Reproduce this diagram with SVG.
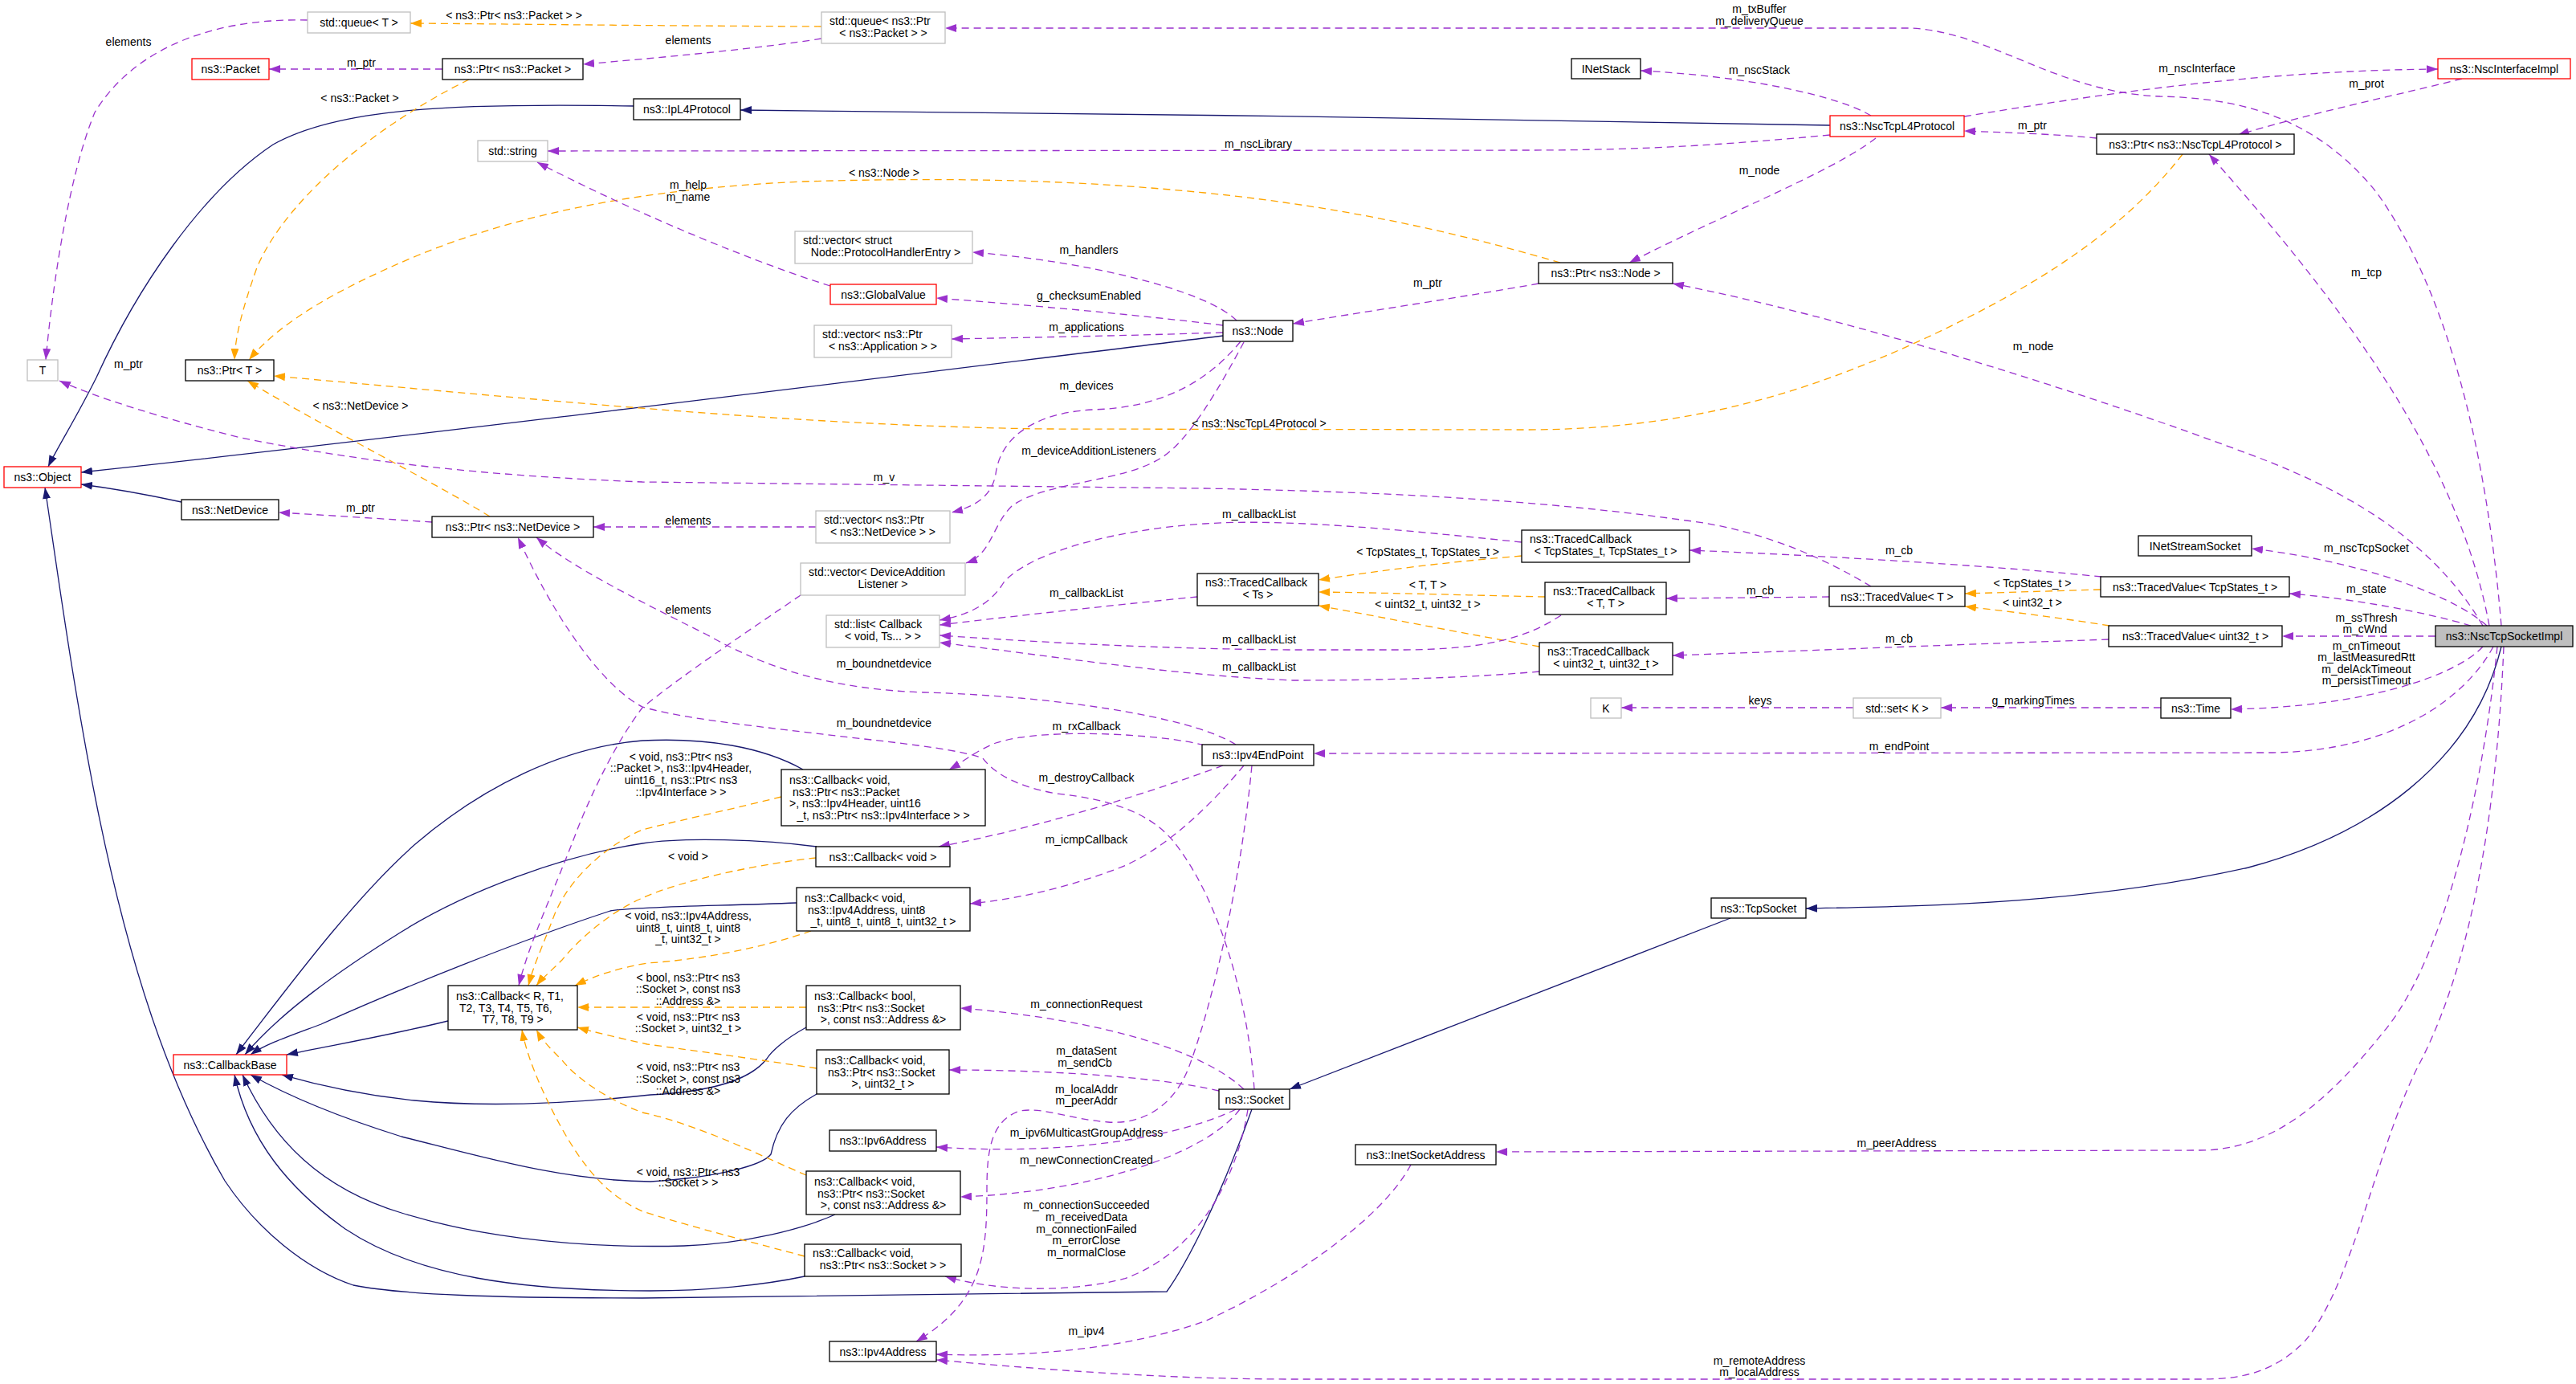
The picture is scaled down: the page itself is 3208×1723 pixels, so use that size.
<svg xmlns="http://www.w3.org/2000/svg" width="3208" height="1723" viewBox="0 0 3208 1723">
<style>
text{font-family:"Liberation Sans",Arial,sans-serif;font-size:14px;fill:#000}
.c{text-anchor:middle}
.nd rect{fill:#fff;stroke:#000;stroke-width:1.3}
.nd.g rect{stroke:#bfbfbf}
.nd.r rect{stroke:#ff0000}
.nd.s rect{fill:#bfbfbf}
#edges path{fill:none;stroke-width:1.3}
.p{stroke:#9a32cd;stroke-dasharray:9,6;marker-end:url(#ap)}
.o{stroke:#ffa500;stroke-dasharray:9,6;marker-end:url(#ao)}
.b{stroke:#191970;marker-end:url(#ab)}
</style>
<defs>
<marker id="ap" viewBox="0 0 14 10" refX="14" refY="5" markerWidth="14" markerHeight="10" markerUnits="userSpaceOnUse" orient="auto"><path d="M0,0L14,5L0,10z" fill="#9a32cd" stroke="none"/></marker>
<marker id="ao" viewBox="0 0 14 10" refX="14" refY="5" markerWidth="14" markerHeight="10" markerUnits="userSpaceOnUse" orient="auto"><path d="M0,0L14,5L0,10z" fill="#ffa500" stroke="none"/></marker>
<marker id="ab" viewBox="0 0 14 10" refX="14" refY="5" markerWidth="14" markerHeight="10" markerUnits="userSpaceOnUse" orient="auto"><path d="M0,0L14,5L0,10z" fill="#191970" stroke="none"/></marker>
</defs>
<rect width="3208" height="1723" fill="#fff"/>
<g id="edges">
<!-- inheritance -->
<path class="b" d="M789,132 C560,128 420,135 340,180 C250,240 170,360 120,470 C95,520 70,560 60,581"/>
<path class="b" d="M2279,156 C1800,148 1400,140 922,137"/>
<path class="b" d="M1523,418 C1100,470 500,545 101,588"/>
<path class="b" d="M226,625 C180,615 140,608 101,603"/>
<path class="b" d="M2155,1143 L1606,1356"/>
<path class="b" d="M3115,805 C3080,950 2950,1040 2800,1080 C2600,1125 2400,1128 2249,1131"/>
<path class="b" d="M1559,1381 C1520,1490 1480,1570 1453,1608 L800,1616 C620,1616 500,1612 440,1600 C380,1580 320,1530 280,1470 C210,1350 160,1200 120,1000 C90,850 70,700 56,607"/>
<path class="b" d="M558,1271 C480,1290 420,1300 357,1313"/>
<path class="b" d="M1000,958 C950,930 880,918 800,922 C700,930 600,980 517,1051 C450,1110 380,1200 294,1313"/>
<path class="b" d="M1017,1054 C950,1045 850,1042 800,1050 C700,1065 580,1110 500,1160 C420,1210 350,1260 305,1313"/>
<path class="b" d="M992,1124 C900,1128 800,1128 760,1134 C650,1170 500,1230 400,1275 C360,1290 330,1300 312,1313"/>
<path class="b" d="M1004,1279 C975,1295 960,1310 955,1318 C930,1350 870,1360 810,1363 C700,1375 600,1378 516,1370 C450,1363 400,1352 351,1338"/>
<path class="b" d="M1017,1362 C985,1380 968,1400 960,1437 C950,1450 900,1465 810,1471 C700,1470 600,1440 500,1415 C420,1390 360,1365 312,1338"/>
<path class="b" d="M1040,1512 C1000,1530 930,1548 852,1551 C700,1555 580,1535 500,1510 C400,1480 340,1420 302,1338"/>
<path class="b" d="M1002,1589 C950,1600 880,1607 810,1607 C650,1607 520,1590 430,1530 C360,1480 310,1420 292,1338"/>
<!-- template instances -->
<path class="o" d="M584,99 C480,150 360,240 320,333 C300,390 293,420 292,448"/>
<path class="o" d="M1023,33 C800,32 650,30 511,29"/>
<path class="o" d="M1943,327 C1850,300 1700,260 1500,240 C1350,225 1200,220 1000,226 C800,235 650,265 520,318 C420,360 350,400 310,448"/>
<path class="o" d="M2718,192 C2650,280 2550,350 2400,420 C2250,490 2100,535 1900,535 L1300,534 C1000,530 700,500 341,468"/>
<path class="o" d="M610,643 C540,600 400,530 308,474"/>
<path class="o" d="M1895,692 C1800,700 1720,710 1642,722"/>
<path class="o" d="M1924,743 C1830,741 1730,738 1642,737"/>
<path class="o" d="M1917,805 C1830,790 1730,770 1642,754"/>
<path class="o" d="M2616,734 L2447,739"/>
<path class="o" d="M2627,779 C2570,770 2510,762 2447,755"/>
<path class="o" d="M973,992 C900,1010 830,1025 800,1033 C760,1050 710,1090 690,1140 C675,1180 665,1200 658,1227"/>
<path class="o" d="M1016,1068 C950,1075 850,1095 800,1118 C760,1135 720,1170 700,1195 C685,1210 675,1218 668,1227"/>
<path class="o" d="M1010,1159 C950,1180 870,1195 806,1199 C770,1205 740,1215 716,1227"/>
<path class="o" d="M1004,1254 L719,1254"/>
<path class="o" d="M1017,1330 C950,1320 880,1310 806,1300 C770,1292 740,1285 719,1279"/>
<path class="o" d="M1004,1463 C950,1440 870,1400 800,1385 C760,1370 720,1345 700,1320 C685,1305 675,1295 668,1282"/>
<path class="o" d="M1002,1564 C950,1550 870,1530 800,1508 C760,1490 730,1460 697,1400 C670,1350 655,1310 650,1282"/>
<!-- usage -->
<path class="p" d="M383,25 C250,22 160,70 118,140 C85,220 65,360 57,448"/>
<path class="p" d="M1023,48 C950,60 820,72 726,80"/>
<path class="p" d="M551,86 L335,86"/>
<path class="p" d="M3115,779 C3100,600 3060,380 2960,240 C2880,140 2780,122 2690,120 C2560,115 2480,40 2380,35 L1177,35"/>
<path class="p" d="M2330,144 C2290,120 2180,95 2043,88"/>
<path class="p" d="M2446,145 C2600,120 2800,88 3036,86"/>
<path class="p" d="M3066,98 C3000,115 2880,140 2787,168"/>
<path class="p" d="M2611,172 C2560,167 2500,165 2446,163"/>
<path class="p" d="M2279,168 C2150,180 2050,187 1900,187 L682,188"/>
<path class="p" d="M2336,172 C2280,215 2150,265 2029,327"/>
<path class="p" d="M1916,353 C1820,370 1700,388 1610,403"/>
<path class="p" d="M1034,356 C950,330 800,270 669,202"/>
<path class="p" d="M1540,399 C1500,360 1350,325 1211,314"/>
<path class="p" d="M1523,405 C1400,390 1280,380 1166,371"/>
<path class="p" d="M1523,414 C1400,418 1290,420 1185,422"/>
<path class="p" d="M1545,425 C1500,480 1440,508 1360,510 C1280,515 1245,550 1240,590 C1235,620 1210,632 1185,638"/>
<path class="p" d="M1549,426 C1520,480 1480,550 1446,570 C1400,600 1300,600 1260,630 C1235,655 1235,690 1203,701"/>
<path class="p" d="M538,650 C480,646 400,641 347,638"/>
<path class="p" d="M1016,656 L739,656"/>
<path class="p" d="M2330,730 C2280,700 2200,660 2100,648 C1900,620 1700,612 1500,608 L800,600 C600,592 450,575 300,545 C200,520 120,495 74,474"/>
<path class="p" d="M1491,743 C1400,752 1280,765 1170,778"/>
<path class="p" d="M1895,675 C1750,660 1600,645 1500,652 C1380,660 1280,690 1250,725 C1235,750 1210,765 1170,772"/>
<path class="p" d="M1944,766 C1900,795 1850,808 1750,809 L1610,809 C1450,808 1300,800 1170,791"/>
<path class="p" d="M1917,836 C1850,842 1750,847 1610,847 C1450,840 1300,815 1170,800"/>
<path class="p" d="M2617,718 C2500,706 2300,693 2104,685"/>
<path class="p" d="M2278,743 L2075,745"/>
<path class="p" d="M2626,796 C2450,802 2250,810 2083,816"/>
<path class="p" d="M3097,779 C3060,745 2950,700 2804,683"/>
<path class="p" d="M3077,779 C3020,762 2930,745 2851,739"/>
<path class="p" d="M3033,792 L2842,792"/>
<path class="p" d="M3092,805 C3060,840 2950,880 2778,883"/>
<path class="p" d="M2308,881 L2019,881"/>
<path class="p" d="M2691,881 L2417,881"/>
<path class="p" d="M3105,805 C3070,870 2980,935 2830,937 L1636,938"/>
<path class="p" d="M3092,779 C3040,690 2950,620 2800,565 C2600,490 2300,395 2083,353"/>
<path class="p" d="M3100,779 C3060,560 2900,360 2751,192"/>
<path class="p" d="M3110,805 C3090,1000 3040,1200 2968,1285 C2900,1370 2830,1432 2740,1432 L1863,1434"/>
<path class="p" d="M3118,805 C3110,1000 3080,1200 3010,1330 C2960,1430 2930,1600 2870,1670 C2830,1710 2790,1717 2740,1717 L1610,1717 C1450,1717 1300,1705 1166,1693"/>
<path class="p" d="M1757,1450 C1720,1520 1600,1600 1500,1645 C1400,1680 1280,1690 1166,1686"/>
<path class="p" d="M1500,928 C1450,914 1300,905 1240,925 C1215,935 1200,948 1182,958"/>
<path class="p" d="M1523,953 C1450,980 1300,1030 1169,1054"/>
<path class="p" d="M1549,953 C1510,1000 1450,1060 1390,1082 C1320,1108 1260,1120 1208,1125"/>
<path class="p" d="M1559,953 C1545,1100 1510,1250 1480,1330 C1460,1380 1420,1400 1380,1397 C1330,1393 1300,1378 1270,1383 C1235,1395 1229,1430 1229,1480 C1229,1560 1225,1620 1141,1670"/>
<path class="p" d="M1539,927 C1480,890 1300,866 1150,862 C1040,858 960,835 880,790 C790,745 710,705 668,669"/>
<path class="p" d="M1562,1356 C1555,1250 1520,1120 1461,1047 C1430,1010 1380,995 1316,988 C1270,980 1240,965 1224,944 C1200,935 1150,928 1058,918 C950,905 850,895 800,880 C760,860 700,790 645,669"/>
<path class="p" d="M997,741 C940,780 850,840 800,881 C770,920 740,980 720,1030 C690,1110 660,1170 646,1227"/>
<path class="p" d="M1549,1356 C1500,1310 1380,1270 1196,1255"/>
<path class="p" d="M1518,1358 C1440,1340 1300,1332 1182,1332"/>
<path class="p" d="M1539,1381 C1480,1410 1350,1440 1166,1428"/>
<path class="p" d="M1544,1381 C1500,1440 1350,1485 1196,1490"/>
<path class="p" d="M1554,1381 C1540,1470 1490,1560 1400,1592 C1320,1612 1230,1605 1177,1589"/>
<!-- labels -->
<text class="c" x="160" y="57">elements</text>
<text class="c" x="857" y="55">elements</text>
<text class="c" x="450" y="83">m_ptr</text>
<text class="c" x="640" y="24">&lt; ns3::Ptr&lt; ns3::Packet &gt; &gt;</text>
<text class="c" x="448" y="127">&lt; ns3::Packet &gt;</text>
<text class="c" x="2191" y="16">m_txBuffer</text>
<text class="c" x="2191" y="31">m_deliveryQueue</text>
<text class="c" x="2191" y="92">m_nscStack</text>
<text class="c" x="2736" y="90">m_nscInterface</text>
<text class="c" x="2947" y="109">m_prot</text>
<text class="c" x="2531" y="161">m_ptr</text>
<text class="c" x="1567" y="184">m_nscLibrary</text>
<text class="c" x="2191" y="217">m_node</text>
<text class="c" x="1778" y="357">m_ptr</text>
<text class="c" x="1101" y="220">&lt; ns3::Node &gt;</text>
<text class="c" x="857" y="235">m_help</text>
<text class="c" x="857" y="250">m_name</text>
<text class="c" x="1356" y="316">m_handlers</text>
<text class="c" x="1356" y="373">g_checksumEnabled</text>
<text class="c" x="1353" y="412">m_applications</text>
<text class="c" x="1353" y="485">m_devices</text>
<text class="c" x="1356" y="566">m_deviceAdditionListeners</text>
<text class="c" x="1568" y="532">&lt; ns3::NscTcpL4Protocol &gt;</text>
<text class="c" x="2947" y="344">m_tcp</text>
<text class="c" x="2532" y="436">m_node</text>
<text class="c" x="160" y="458">m_ptr</text>
<text class="c" x="449" y="510">&lt; ns3::NetDevice &gt;</text>
<text class="c" x="449" y="637">m_ptr</text>
<text class="c" x="1101" y="599">m_v</text>
<text class="c" x="857" y="653">elements</text>
<text class="c" x="857" y="764">elements</text>
<text class="c" x="1568" y="645">m_callbackList</text>
<text class="c" x="1353" y="743">m_callbackList</text>
<text class="c" x="1568" y="801">m_callbackList</text>
<text class="c" x="1568" y="835">m_callbackList</text>
<text class="c" x="1778" y="692">&lt; TcpStates_t, TcpStates_t &gt;</text>
<text class="c" x="1778" y="733">&lt; T, T &gt;</text>
<text class="c" x="1778" y="757">&lt; uint32_t, uint32_t &gt;</text>
<text class="c" x="2365" y="690">m_cb</text>
<text class="c" x="2192" y="740">m_cb</text>
<text class="c" x="2365" y="800">m_cb</text>
<text class="c" x="2192" y="877">keys</text>
<text class="c" x="2532" y="877">g_markingTimes</text>
<text class="c" x="2365" y="934">m_endPoint</text>
<text class="c" x="2947" y="687">m_nscTcpSocket</text>
<text class="c" x="2531" y="731">&lt; TcpStates_t &gt;</text>
<text class="c" x="2947" y="738">m_state</text>
<text class="c" x="2531" y="755">&lt; uint32_t &gt;</text>
<text class="c" x="2947" y="774">m_ssThresh</text>
<text class="c" x="2945" y="788">m_cWnd</text>
<text class="c" x="2947" y="809">m_cnTimeout</text>
<text class="c" x="2947" y="823">m_lastMeasuredRtt</text>
<text class="c" x="2947" y="838">m_delAckTimeout</text>
<text class="c" x="2947" y="852">m_persistTimeout</text>
<text class="c" x="848" y="947">&lt; void, ns3::Ptr&lt; ns3</text>
<text class="c" x="848" y="961">::Packet &gt;, ns3::Ipv4Header,</text>
<text class="c" x="848" y="976">uint16_t, ns3::Ptr&lt; ns3</text>
<text class="c" x="848" y="991">::Ipv4Interface &gt; &gt;</text>
<text class="c" x="1101" y="831">m_boundnetdevice</text>
<text class="c" x="1101" y="905">m_boundnetdevice</text>
<text class="c" x="1353" y="909">m_rxCallback</text>
<text class="c" x="1353" y="973">m_destroyCallback</text>
<text class="c" x="1353" y="1050">m_icmpCallback</text>
<text class="c" x="857" y="1071">&lt; void &gt;</text>
<text class="c" x="857" y="1145">&lt; void, ns3::Ipv4Address,</text>
<text class="c" x="857" y="1160">uint8_t, uint8_t, uint8</text>
<text class="c" x="857" y="1174">_t, uint32_t &gt;</text>
<text class="c" x="857" y="1222">&lt; bool, ns3::Ptr&lt; ns3</text>
<text class="c" x="857" y="1236">::Socket &gt;, const ns3</text>
<text class="c" x="857" y="1251">::Address &amp;&gt;</text>
<text class="c" x="857" y="1271">&lt; void, ns3::Ptr&lt; ns3</text>
<text class="c" x="857" y="1285">::Socket &gt;, uint32_t &gt;</text>
<text class="c" x="857" y="1333">&lt; void, ns3::Ptr&lt; ns3</text>
<text class="c" x="857" y="1348">::Socket &gt;, const ns3</text>
<text class="c" x="857" y="1363">::Address &amp;&gt;</text>
<text class="c" x="857" y="1464">&lt; void, ns3::Ptr&lt; ns3</text>
<text class="c" x="857" y="1477">::Socket &gt; &gt;</text>
<text class="c" x="1353" y="1255">m_connectionRequest</text>
<text class="c" x="1353" y="1313">m_dataSent</text>
<text class="c" x="1351" y="1328">m_sendCb</text>
<text class="c" x="1353" y="1361">m_localAddr</text>
<text class="c" x="1353" y="1375">m_peerAddr</text>
<text class="c" x="1353" y="1415">m_ipv6MulticastGroupAddress</text>
<text class="c" x="1353" y="1449">m_newConnectionCreated</text>
<text class="c" x="1353" y="1505">m_connectionSucceeded</text>
<text class="c" x="1353" y="1520">m_receivedData</text>
<text class="c" x="1353" y="1535">m_connectionFailed</text>
<text class="c" x="1353" y="1549">m_errorClose</text>
<text class="c" x="1353" y="1564">m_normalClose</text>
<text class="c" x="1353" y="1662">m_ipv4</text>
<text class="c" x="2362" y="1428">m_peerAddress</text>
<text class="c" x="2191" y="1699">m_remoteAddress</text>
<text class="c" x="2191" y="1713">m_localAddress</text>
</g>
<g id="queueT" class="nd g"><rect x="383" y="15" width="128" height="26"/><text class="c" x="447" y="33">std::queue&lt; T &gt;</text></g>
<g id="packet" class="nd r"><rect x="239" y="73" width="96" height="26"/><text class="c" x="287" y="91">ns3::Packet</text></g>
<g id="ptrPacket" class="nd"><rect x="551" y="73" width="175" height="26"/><text class="c" x="638.5" y="91">ns3::Ptr&lt; ns3::Packet &gt;</text></g>
<g id="queuePtrPacket" class="nd g"><rect x="1023" y="15" width="154" height="39"/><text x="1033" y="31">std::queue&lt; ns3::Ptr</text><text class="c" x="1100" y="46">&lt; ns3::Packet &gt; &gt;</text></g>
<g id="ipl4" class="nd"><rect x="789" y="123" width="133" height="26"/><text class="c" x="855.5" y="141">ns3::IpL4Protocol</text></g>
<g id="string" class="nd g"><rect x="595" y="175" width="87" height="26"/><text class="c" x="638.5" y="193">std::string</text></g>
<g id="T" class="nd g"><rect x="34" y="448" width="38" height="26"/><text class="c" x="53" y="466">T</text></g>
<g id="ptrT" class="nd"><rect x="231" y="448" width="110" height="26"/><text class="c" x="286" y="466">ns3::Ptr&lt; T &gt;</text></g>
<g id="object" class="nd r"><rect x="5" y="581" width="96" height="26"/><text class="c" x="53" y="599">ns3::Object</text></g>
<g id="netdevice" class="nd"><rect x="226" y="622" width="121" height="25"/><text class="c" x="286.5" y="640">ns3::NetDevice</text></g>
<g id="ptrNetDevice" class="nd"><rect x="538" y="643" width="201" height="26"/><text class="c" x="638.5" y="661">ns3::Ptr&lt; ns3::NetDevice &gt;</text></g>
<g id="vecHandlers" class="nd g"><rect x="990" y="288" width="221" height="40"/><text x="1000" y="304">std::vector&lt; struct</text><text class="c" x="1103" y="319">Node::ProtocolHandlerEntry &gt;</text></g>
<g id="globalValue" class="nd r"><rect x="1034" y="354" width="132" height="25"/><text class="c" x="1100" y="372">ns3::GlobalValue</text></g>
<g id="vecApps" class="nd g"><rect x="1014" y="405" width="171" height="40"/><text x="1024" y="421">std::vector&lt; ns3::Ptr</text><text class="c" x="1099.5" y="436">&lt; ns3::Application &gt; &gt;</text></g>
<g id="node" class="nd"><rect x="1523" y="399" width="87" height="26"/><text class="c" x="1566.5" y="417">ns3::Node</text></g>
<g id="inetStack" class="nd"><rect x="1957" y="73" width="86" height="25"/><text class="c" x="2000" y="91">INetStack</text></g>
<g id="nscTcpL4" class="nd r"><rect x="2279" y="144" width="167" height="26"/><text class="c" x="2362.5" y="162">ns3::NscTcpL4Protocol</text></g>
<g id="ptrNode" class="nd"><rect x="1916" y="327" width="167" height="26"/><text class="c" x="1999.5" y="345">ns3::Ptr&lt; ns3::Node &gt;</text></g>
<g id="nscIface" class="nd r"><rect x="3036" y="73" width="165" height="25"/><text class="c" x="3118.5" y="91">ns3::NscInterfaceImpl</text></g>
<g id="ptrNscTcp" class="nd"><rect x="2611" y="167" width="246" height="25"/><text class="c" x="2734" y="185">ns3::Ptr&lt; ns3::NscTcpL4Protocol &gt;</text></g>
<g id="vecNetDev" class="nd g"><rect x="1016" y="636" width="167" height="40"/><text x="1026" y="652">std::vector&lt; ns3::Ptr</text><text class="c" x="1099.5" y="667">&lt; ns3::NetDevice &gt; &gt;</text></g>
<g id="vecDevAdd" class="nd g"><rect x="997" y="701" width="205" height="40"/><text x="1007" y="717">std::vector&lt; DeviceAddition</text><text class="c" x="1099.5" y="732">Listener &gt;</text></g>
<g id="listCb" class="nd g"><rect x="1029" y="766" width="141" height="40"/><text x="1039" y="782">std::list&lt; Callback</text><text class="c" x="1099.5" y="797">&lt; void, Ts... &gt; &gt;</text></g>
<g id="tcTs" class="nd"><rect x="1491" y="714" width="151" height="40"/><text x="1501" y="730">ns3::TracedCallback</text><text class="c" x="1566.5" y="745">&lt; Ts &gt;</text></g>
<g id="ipv4EndPoint" class="nd"><rect x="1497" y="927" width="139" height="26"/><text class="c" x="1566.5" y="945">ns3::Ipv4EndPoint</text></g>
<g id="cbPacket" class="nd"><rect x="973" y="958" width="254" height="70"/><text x="983" y="976">ns3::Callback&lt; void,</text><text x="987" y="990.5">ns3::Ptr&lt; ns3::Packet</text><text x="983" y="1005">&gt;, ns3::Ipv4Header, uint16</text><text class="c" x="1100" y="1019.5">_t, ns3::Ptr&lt; ns3::Ipv4Interface &gt; &gt;</text></g>
<g id="cbVoid" class="nd"><rect x="1016" y="1054" width="167" height="25"/><text class="c" x="1099.5" y="1072">ns3::Callback&lt; void &gt;</text></g>
<g id="cbIpv4" class="nd"><rect x="992" y="1105" width="216" height="54"/><text x="1002" y="1123">ns3::Callback&lt; void,</text><text x="1006" y="1137.5">ns3::Ipv4Address, uint8</text><text class="c" x="1100" y="1152">_t, uint8_t, uint8_t, uint32_t &gt;</text></g>
<g id="tcStates" class="nd"><rect x="1895" y="660" width="209" height="40"/><text x="1905" y="676">ns3::TracedCallback</text><text class="c" x="1999.5" y="691">&lt; TcpStates_t, TcpStates_t &gt;</text></g>
<g id="tcTT" class="nd"><rect x="1924" y="725" width="151" height="40"/><text x="1934" y="741">ns3::TracedCallback</text><text class="c" x="1999.5" y="756">&lt; T, T &gt;</text></g>
<g id="tcU32" class="nd"><rect x="1917" y="800" width="166" height="40"/><text x="1927" y="816">ns3::TracedCallback</text><text class="c" x="2000" y="831">&lt; uint32_t, uint32_t &gt;</text></g>
<g id="tvT" class="nd"><rect x="2278" y="730" width="169" height="25"/><text class="c" x="2362.5" y="748">ns3::TracedValue&lt; T &gt;</text></g>
<g id="K" class="nd g"><rect x="1981" y="869" width="38" height="25"/><text class="c" x="2000" y="887">K</text></g>
<g id="setK" class="nd g"><rect x="2308" y="869" width="109" height="25"/><text class="c" x="2362.5" y="887">std::set&lt; K &gt;</text></g>
<g id="tcpSocket" class="nd"><rect x="2131" y="1118" width="118" height="25"/><text class="c" x="2190" y="1136">ns3::TcpSocket</text></g>
<g id="inetStreamSocket" class="nd"><rect x="2663" y="667" width="141" height="25"/><text class="c" x="2733.5" y="685">INetStreamSocket</text></g>
<g id="tvStates" class="nd"><rect x="2616" y="718" width="235" height="25"/><text class="c" x="2733.5" y="736">ns3::TracedValue&lt; TcpStates_t &gt;</text></g>
<g id="tvU32" class="nd"><rect x="2626" y="779" width="216" height="26"/><text class="c" x="2734" y="797">ns3::TracedValue&lt; uint32_t &gt;</text></g>
<g id="nscSock" class="nd s"><rect x="3033" y="779" width="171" height="26"/><text class="c" x="3118.5" y="797">ns3::NscTcpSocketImpl</text></g>
<g id="time" class="nd"><rect x="2691" y="869" width="87" height="25"/><text class="c" x="2734.5" y="887">ns3::Time</text></g>
<g id="cbR" class="nd"><rect x="558" y="1227" width="161" height="55"/><text x="568" y="1245">ns3::Callback&lt; R, T1,</text><text x="572" y="1259.5">T2, T3, T4, T5, T6,</text><text class="c" x="638.5" y="1274">T7, T8, T9 &gt;</text></g>
<g id="callbackBase" class="nd r"><rect x="216" y="1313" width="141" height="25"/><text class="c" x="286.5" y="1331">ns3::CallbackBase</text></g>
<g id="cbBool" class="nd"><rect x="1004" y="1227" width="192" height="55"/><text x="1014" y="1245">ns3::Callback&lt; bool,</text><text x="1018" y="1259.5">ns3::Ptr&lt; ns3::Socket</text><text class="c" x="1100" y="1274">&gt;, const ns3::Address &amp;&gt;</text></g>
<g id="cbU32" class="nd"><rect x="1017" y="1307" width="165" height="55"/><text x="1027" y="1325">ns3::Callback&lt; void,</text><text x="1031" y="1339.5">ns3::Ptr&lt; ns3::Socket</text><text class="c" x="1099.5" y="1354">&gt;, uint32_t &gt;</text></g>
<g id="ipv6" class="nd"><rect x="1033" y="1407" width="133" height="26"/><text class="c" x="1099.5" y="1425">ns3::Ipv6Address</text></g>
<g id="cbAddr" class="nd"><rect x="1004" y="1458" width="192" height="54"/><text x="1014" y="1476">ns3::Callback&lt; void,</text><text x="1018" y="1490.5">ns3::Ptr&lt; ns3::Socket</text><text class="c" x="1100" y="1505">&gt;, const ns3::Address &amp;&gt;</text></g>
<g id="cbSock" class="nd"><rect x="1002" y="1549" width="195" height="40"/><text x="1012" y="1565">ns3::Callback&lt; void,</text><text class="c" x="1099.5" y="1580">ns3::Ptr&lt; ns3::Socket &gt; &gt;</text></g>
<g id="ipv4" class="nd"><rect x="1033" y="1670" width="133" height="25"/><text class="c" x="1099.5" y="1688">ns3::Ipv4Address</text></g>
<g id="socket" class="nd"><rect x="1518" y="1356" width="88" height="25"/><text class="c" x="1562" y="1374">ns3::Socket</text></g>
<g id="inetSockAddr" class="nd"><rect x="1688" y="1425" width="175" height="25"/><text class="c" x="1775.5" y="1443">ns3::InetSocketAddress</text></g>
</svg>
